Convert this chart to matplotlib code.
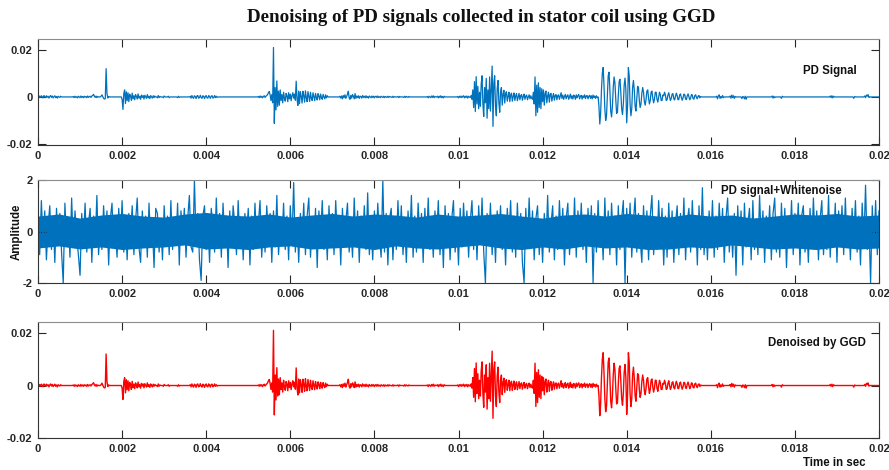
import numpy as np
import matplotlib.pyplot as plt
from matplotlib.ticker import FuncFormatter

# PD signal: sample step and nonzero stretches (values in units of 1e-3)
dt = 0.00002
seg_start = [0.00000, 0.00084, 0.00150, 0.00198, 0.00330, 0.00362, 0.00524,
             0.00718, 0.00926, 0.00998, 0.01614, 0.01646, 0.01672, 0.01680,
             0.01744, 0.01766, 0.01882, 0.01938, 0.01964]
seg_vals = [
    [-0.6, -0.3, 0.4, -0.2, 0.5, 0.1, -0.4, 0.6, 0.2, -0.3, 0.5, -0.1, 0.3, -0.5, 0.2,
     0.6, -0.2, 0.4, -0.4, 0.1, 0.5, -0.3, 0.2, -0.5, 0.3, 0.0, -0.2, 0.3, 0.0],
    [0.2, -0.3, 0.3, -0.2, 0.1, -0.4, 0.3, 0.0, -0.3, 0.4, -0.2, 0.2, -0.3, 0.3, -0.1,
     0.2, -0.3, 0.4, -0.2, 0.1, 0.3, -0.2, 0.4, 0.6, 1.1, 0.3, -0.2, 0.4, -0.3, 0.2, 0.0, 0.0],
    [0.3, 0.9, 0.2, -0.6, -0.9, -0.7, 12.0, 1.5, -0.4, 0.2, 0.0],
    [0.0, -1.0, -5.3, 1.5, 3.0, -2.8, 2.2, -1.6, 1.8, -2.0, 1.2, 0.4, -1.5, 1.6, -0.8,
     0.5, -1.2, 1.0, 0.2, -0.9, 1.3, -0.5, 0.3, -1.0, 0.8, -0.2, 0.6, -0.9, 0.7, 0.0,
     -0.6, 1.0, -0.4, 0.3, -0.7, 0.6, 0.0, -0.5, 0.5, -0.3, 0.4, 0.0, 0.0, -0.4, 0.6,
     -0.3, 0.2, 0.0, 0.0, 0.0, -0.3, 0.4, 0.0, 0.0, 0.0, 0.0, 0.3, -0.3, 0.0],
    [0.0, -0.3, 0.3, -0.2, 0.0],
    [0.3, -0.5, 0.6, -0.2, -0.6, 0.5, 0.2, -0.7, 0.4, 0.6, -0.5, -0.3, 0.7, -0.2, -0.6,
     0.5, 0.3, -0.7, 0.2, 0.6, -0.4, -0.5, 0.6, 0.1, -0.6, 0.4, 0.5, -0.5, -0.2, 0.6,
     -0.3, 0.3, -0.2, 0.0],
    [0.2, -0.3, 0.4, -0.2, 0.3, -0.4, 0.2, 0.5, -0.2, 0.3, 0.6, 1.0, 1.8, 2.3, 0.8,
     -1.5, 1.0, -2.5, 21.0, -11.2, 4.0, -5.5, 6.8, -4.0, 2.5, -3.5, 3.0, -1.5, 1.0, -2.5,
     2.0, -0.5, -1.8, 1.5, 0.5, -2.0, 1.8, -0.8, 1.2, -1.6, 0.6, 1.8, -0.5, 1.2, -1.4,
     6.7, -1.0, -3.6, 2.5, -2.8, 2.2, 0.3, -2.6, 2.4, 0.5, -2.2, 2.6, -0.3, -2.0, 2.3,
     0.2, -1.9, 2.0, -0.5, -1.5, 1.8, 0.2, -1.6, 1.5, -0.2, -1.3, 1.4, 0.3, -1.2, 1.2,
     -0.2, -1.0, 1.1, 0.0, -0.8, 0.9, -0.4, 0.5, 0.0, 0.0],
    [0.3, -0.5, 0.4, -0.8, 0.6, -0.3, 0.9, -0.6, 0.2, 1.2, 2.4, -0.4, -1.0, 0.7, -0.5,
     1.0, 0.3, -0.8, 1.4, -0.6, 0.4, -0.3, 0.5, -0.6, 0.3, 0.2, -0.5, 0.6, -0.2, 0.3,
     -0.4, 0.5, -0.3, 0.2, -0.5, 0.4, 0.0, -0.3, 0.4, -0.2, 0.3, -0.4, 0.2, 0.3, -0.3,
     0.4, -0.2, 0.1, -0.3, 0.3, 0.0, -0.2, 0.3, -0.3, 0.2, 0.0, -0.2, 0.3, -0.2, 0.2,
     0.0, 0.0, -0.2, 0.3, -0.2, 0.1, 0.0, 0.0, 0.0, 0.2, -0.3, 0.2, 0.0, 0.0, 0.0,
     0.0, -0.2, 0.3, -0.2, 0.2, 0.0, -0.2, 0.2, 0.0],
    [0.2, -0.4, 0.3, 0.0, -0.3, 0.4, -0.2, 0.5, -0.3, 0.2, 0.0, 0.0, 0.3, -0.4, 0.3,
     -0.2, 0.5, -0.3, 0.2, -0.4, 0.3, 0.0],
    # 0.00998 .. 0.0158 : the three main bursts
    [0.2, -0.4, 0.3, -0.2, 0.4, -0.3, 0.2, 0.5, -0.4, 0.3, -0.2, 0.4, -0.5, 0.3, 0.0,
     -0.3, 0.6, -1.0,
     3.0, -4.5, 6.5, -6.2, 8.6, -3.0, 4.5, -5.0, 2.0, -4.0, 5.5, 9.0, -3.0, -8.3, 4.0,
     -2.5, 7.9, -9.0, 3.0, -5.0, 8.5, -6.0, 4.0, 13.1, -12.5, 6.0, 9.0, -4.0, -8.0, 3.5,
     7.0, -2.5, -6.5, 2.0, 4.0, -3.5, 1.0, 2.8, -2.6,
     1.5, 2.2, -1.8, 0.3, 2.0, -2.0, 0.8, 1.6, -1.8, 0.2, 1.7, -1.5, 0.5, 1.4, -1.6,
     0.0, 1.5, -1.2, 0.6, 1.0, -1.4, 0.2, 1.2, -1.0, 0.4, 0.8, -1.2, 0.0, 0.9, -0.8,
     0.5, -0.6,
     -1.0, 2.0, -3.0, 8.5, -8.0, 5.0, -6.5, 6.0, -4.5, 4.0, -5.0, 3.5, -2.0, 3.0, -3.5,
     1.5, 2.5, -2.5, 0.5, 2.0, -2.2, 1.0, 1.5, -1.8, 0.2, 1.4, -1.4, 0.6, 1.0, -1.2,
     0.5, 0.9, -1.0, 0.3, 1.8, -0.6, 0.8, -1.0, 0.2, 1.1, -0.8, 0.4, 0.9, -1.0, 0.0,
     1.2, -0.7, 0.5, -0.9, 0.8, 0.3, -1.0, 0.9, -0.4, 0.6, 1.0, -0.8, 0.2, 0.7, -0.9,
     0.5, -0.3, 0.9, -0.7, 0.4, 0.6, -0.8, 0.3, 0.7, -0.6, 0.5, -0.8, 0.8, -0.3, 0.4,
     -0.6, 0.5, -0.3, 0.0,
     -4.0, -11.5, -7.0, 3.0, 10.0, 12.5, 5.0,
     -5.0, -10.0, -8.0, 1.0, 9.0, 10.5, 3.0,
     -6.0, -8.5, -4.0, 4.0, 8.5, 6.0, -1.0,
     -7.0, -6.5, 0.5, 6.5, 7.5, 2.0, -5.0,
     -7.5, -3.0, 5.0, 8.0, 3.0, -11.0, -4.0,
     12.5, 9.0, -3.0, -8.0, -5.0, 4.0, 7.0,
     3.0, -4.0, -6.0, -1.0, 4.5, 4.0, -1.5,
     -4.5, -3.0, 1.5, 4.0, 2.0, -2.0, -3.5,
     -1.0, 2.5, 3.0, -0.5, -3.0, -1.5, 2.0,
     2.5, -0.5, -2.5, -1.0, 2.0, 2.0, -1.0,
     -2.2, 0.0, 2.0, 1.0, -1.5, -1.5, 0.8,
     0.5, 2.0, 0.8, -1.5, -1.2, 0.8, 1.8, 0.0, -1.5, -0.6, 1.2, 1.4, -0.8, -1.3, 0.3,
     1.6, 0.6, -1.2, -1.0, 0.9, 1.3, -0.3, -1.4, -0.4, 1.2, 1.0, -0.9, -1.1, 0.5, 1.3,
     0.0, -1.2, -0.5, 1.0, 0.8, -0.8, -0.9, 0.6, 0.9, -0.3, -0.8, 0.4, 0.6, -0.4, 0.2, 0.0],
    [0.3, -0.8, 0.5, 0.9, -0.6, 0.2, -0.4, 0.6, -0.3, 0.0],
    [0.4, -0.5, 0.8, -0.3, 0.5, -0.6, 0.2, 0.0],
    [0.0, -0.7, 0.2, 0.0],
    [-0.8, 0.3, -1.0, 0.0],
    [0.0, 0.4, -0.5, 0.3, -0.3, 0.0],
    [0.0, -0.6, 0.3, 0.0],
    [0.0, 0.4, -0.3, 0.5, -0.4, 0.3, 0.0],
    [0.0, -0.6, 0.2, 0.0],
    [0.0, 0.4, -0.3, 0.8, 0.3, 1.0, -0.2, 0.0],
]

# PD signal + white noise, read in tenths, 501 samples over 0..0.02 s
noisy_tenths = [
    6, -9, 12, -4, 8, -11, 2, 10, -7, 5, -12, 9, -3, 7, -8, -20, 11, -5, 4, -10, 13, -6, 8, -2, -9,
    -17, 7, -4, 11, -8, 3, 9, -12, 6, -5, 14, -9, 2, -7, 10, -3, 8, -13, 5, 11, -6, 1, -10, 9, -4,
    12, -8, 5, -11, 7, -2, 10, -9, 4, 13, -6, -12, 8, -3, 6, -10, 11, -5, 2, -14, 9, 7, -8, 4, -11,
    10, -3, 6, -9, 12, -7, 3, -5, 11, -13, 8, -2, 9, -10, 5, 14, -6, -8, 20, -4, 7, -11, -19, 6, 10,
    -7, 4, -12, 9, 2, -8, 13, -5, 7, -10, 11, -3, 6, -14, 8, -6, 10, 3, -9, 12, -4, 5, -11, 7, -2,
    9, -13, 6, -7, 11, -5, 3, 12, -10, 4, -8, 10, -2, 7, -12, 8, -6, 14, -9, 2, -5, 11, -7, 6, -11,
    10, -4, 19, -8, 5, -12, 7, -3, 11, -9, 6, 13, -10, 4, -6, 9, -14, 8, -2, 12, -7, 3, -11, 10, -5,
    7, -9, 12, -3, 6, -13, 9, -6, 4, 11, -8, 2, -10, 13, -5, 8, -12, 6, -4, 10, -7, 15, -9, 3, -11,
    8, -6, 11, -2, -10, 20, -8, 7, -13, 5, 9, -11, 4, -7, 12, -5, 10, -9, 3, -12, 8, -4, 14, -10, 6,
    -8, 11, -3, 7, -12, 9, -5, 13, -7, 4, -10, 8, -2, 12, -9, 6, -14, 10, -4, 7, -11, 5, 12, -8, 3,
    -13, 9, -6, 11, -3, 8, -10, 4, 12, -7, 6, -11, 10, -5, 13, -8, -20, 7, -4, 11, -9, 5, -12, 8, -3,
    10, -7, 4, -13, 9, -2, 12, -8, 6, -10, 11, -5, 7, -12, -20, 9, -6, 13, -4, 8, -11, 5, 10, -9, 3,
    -12, 7, -5, 14, -8, 3, 10, -11, 6, -7, 12, -4, 9, -13, 5, 11, -9, 2, -6, 13, -10, 8, -3, 11, -7,
    6, -12, 9, -4, 10, -20, 7, -8, 12, -5, 4, -11, 13, -6, 8, -9, 11, -3, 6, -13, 10, -7, 5, 12, -20,
    9, -6, 11, -10, 4, 13, -8, 7, -3, -12, 10, -5, 8, -11, 6, 14, -9, 3, -7, 12, -4, 9, -13, 6, -10,
    11, -5, 8, -12, 3, 10, -9, 7, -6, 13, -11, 4, 9, -8, 12, -3, 6, -13, 10, -7, 17, -9, 5, -11, 8,
    -4, 12, -10, 6, -7, 11, -3, 9, -12, 5, 13, -8, 4, -10, 7, -17, 10, -5, 8, -13, 11, -6, 3, 9, -11,
    12, -7, 5, -9, 14, -4, 8, -12, 6, -3, 10, -11, 7, 13, -8, 4, -10, 11, -6, 9, -14, 5, -5, 12, -9,
    7, -3, 11, -13, 6, 10, -8, 4, -12, 9, -6, 13, -4, 8, -11, 5, 12, -9, 3, -7, 14, -10, 6, -5, 11,
    -12, 8, -4, 10, -9, 13, -6, 5, -11, 9, -3, 12, -8, 6, -13, 11, -5, 18, -7, 4, -20, 10, -6, 12, -9,
    8,
]
# solid core of the noisy trace (upper / lower edge), every 0.0005 s
core_hi = [0.60, 0.68, 0.52, 0.64, 0.70, 0.60, 0.56, 0.68, 0.74, 0.64, 0.60, 0.68, 0.56, 0.64,
           0.70, 0.60, 0.68, 0.64, 0.56, 0.68, 0.60, 0.64, 0.70, 0.60, 0.52, 0.64, 0.68, 0.60,
           0.70, 0.64, 0.56, 0.68, 0.60, 0.64, 0.52, 0.60, 0.68, 0.64, 0.70, 0.60, 0.64]
core_lo = [-0.64, -0.56, -0.68, -0.60, -0.70, -0.64, -0.60, -0.52, -0.68, -0.64, -0.70, -0.60,
           -0.56, -0.68, -0.64, -0.60, -0.70, -0.56, -0.64, -0.68, -0.60, -0.52, -0.64, -0.70,
           -0.60, -0.68, -0.56, -0.64, -0.60, -0.70, -0.68, -0.60, -0.64, -0.52, -0.60, -0.68,
           -0.64, -0.70, -0.60, -0.68, -0.64]

panel_labels = ["PD Signal", "PD signal+Whitenoise", "Denoised by GGD"]
title = "Denoising of PD signals collected in stator coil using GGD"

# build the sampled signals
t = np.arange(0, 0.02 + dt / 2, dt)
pd_sig = np.zeros_like(t)
for t0, vals in zip(seg_start, seg_vals):
    i0 = int(round(t0 / dt))
    v = np.array(vals) * 1e-3
    pd_sig[i0:i0 + len(v)] = v[:len(pd_sig) - i0]
denoised = pd_sig.copy()
noisy = np.array(noisy_tenths) / 10.0
t_noisy = np.linspace(0, 0.02, len(noisy))
t_core = np.linspace(0, 0.02, len(core_hi))

plt.rcParams['font.family'] = ['Liberation Sans', 'DejaVu Sans']
fig = plt.figure(figsize=(8.89, 4.70), dpi=100)

W, H = 889.0, 470.0
def ax_box(left, top, right, bottom):
    return [left / W, 1 - bottom / H, (right - left) / W, (bottom - top) / H]

ax1 = fig.add_axes(ax_box(38, 39, 879, 145))
ax2 = fig.add_axes(ax_box(38, 180, 879, 283))
ax3 = fig.add_axes(ax_box(38, 322, 879, 438))

blue = '#0072BD'
ax1.plot(t, pd_sig, color=blue, lw=0.9)
ax2.fill_between(t_core, core_lo, core_hi, color=blue, lw=0)
ax2.plot(t_noisy, noisy, color=blue, lw=0.9)
ax3.plot(t, denoised, color='#FF0000', lw=1.0)

ax1.set_ylim(-0.0204, 0.0246)
ax2.set_ylim(-2, 2)
ax3.set_ylim(-0.0198, 0.0242)
ax1.set_yticks([-0.02, 0, 0.02])
ax2.set_yticks([-2, 0, 2])
ax3.set_yticks([-0.02, 0, 0.02])

fmt = FuncFormatter(lambda v, p: ('%g' % round(v, 6)))
for ax in (ax1, ax2, ax3):
    ax.set_xlim(0, 0.02)
    ax.set_xticks(np.arange(0, 0.0201, 0.002))
    ax.xaxis.set_major_formatter(fmt)
    ax.yaxis.set_major_formatter(fmt)
    ax.tick_params(direction='in', top=True, right=True, length=6, width=0.8,
                   color='#262626', labelsize=8, labelcolor='#262626', pad=4)
    for lab in ax.get_xticklabels() + ax.get_yticklabels():
        lab.set_fontweight('bold')
    for side in ('left', 'bottom', 'right'):
        ax.spines[side].set_color('#333333')
        ax.spines[side].set_linewidth(0.8)
    ax.spines['top'].set_color('#8c8c8c')
    ax.spines['top'].set_linewidth(0.8)

txt = dict(fontsize=8.3, fontweight='bold', color='#111111', va='center', ha='left')
fig.text(803 / W, 1 - 71 / H, panel_labels[0], **txt)
fig.text(721 / W, 1 - 191 / H, panel_labels[1], **txt)
fig.text(768 / W, 1 - 343 / H, panel_labels[2], **txt)
fig.text(803 / W, 1 - 463 / H, "Time in sec", **txt)
fig.text(17 / W, 1 - 232 / H, "Amplitude", fontsize=8.3, fontweight='bold',
         color='#111111', rotation=90, ha='center', va='center')
fig.text(481 / W, 1 - 17 / H, title, fontsize=13.7, fontweight='bold',
         family='Liberation Serif', ha='center', va='center', color='#111111')

fig.savefig('out.png', dpi=100)
